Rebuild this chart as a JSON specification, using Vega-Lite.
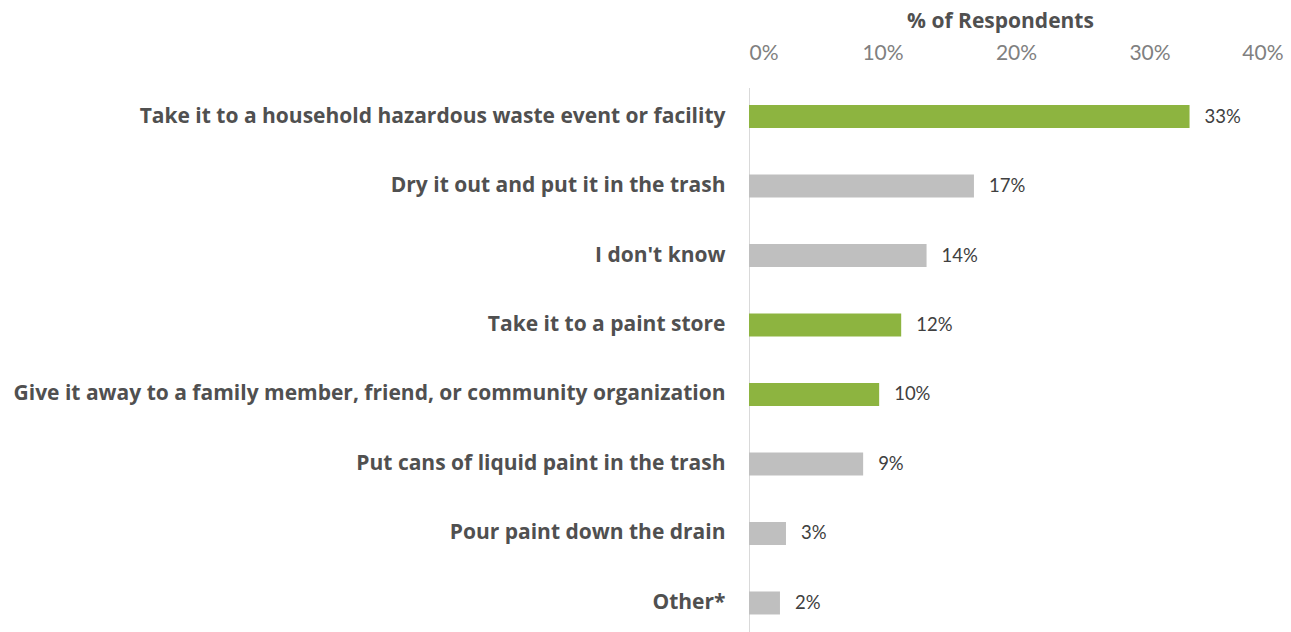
{
  "$schema": "https://vega.github.io/schema/vega-lite/v6.json",
  "width": 534,
  "height": 544.5,
  "autosize": {"type": "none"},
  "padding": {"left": 749, "top": 87.5, "right": 8, "bottom": 0},
  "background": "white",
  "data": {
    "values": [
      {"response": "Take it to a household hazardous waste event or facility", "share": 0.330, "label": "33%", "group": "green"},
      {"response": "Dry it out and put it in the trash", "share": 0.1685, "label": "17%", "group": "gray"},
      {"response": "I don't know", "share": 0.1330, "label": "14%", "group": "gray"},
      {"response": "Take it to a paint store", "share": 0.1140, "label": "12%", "group": "green"},
      {"response": "Give it away to a family member, friend, or community organization", "share": 0.0975, "label": "10%", "group": "green"},
      {"response": "Put cans of liquid paint in the trash", "share": 0.0855, "label": "9%", "group": "gray"},
      {"response": "Pour paint down the drain", "share": 0.0277, "label": "3%", "group": "gray"},
      {"response": "Other*", "share": 0.0232, "label": "2%", "group": "gray"}
    ]
  },
  "encoding": {
    "y": {
      "field": "response",
      "type": "nominal",
      "sort": null,
      "scale": {"paddingInner": 0.669, "paddingOuter": 0.252},
      "axis": {
        "title": null,
        "ticks": false,
        "domain": true,
        "domainColor": "#d9d9d9",
        "domainWidth": 1,
        "labelPadding": 24,
        "labelLimit": 900,
        "labelFont": "Open Sans",
        "labelFontWeight": "bold",
        "labelFontSize": 21,
        "labelColor": "#505050"
      }
    },
    "x": {
      "field": "share",
      "type": "quantitative",
      "scale": {"domain": [0, 0.4], "nice": false},
      "axis": {
        "orient": "top",
        "format": ".0%",
        "values": [0, 0.1, 0.2, 0.3, 0.4],
        "grid": false,
        "ticks": false,
        "domain": false,
        "labelPadding": 24,
        "labelFont": "Lato",
        "labelFontSize": 21,
        "labelColor": "#808080",
        "title": "% of Respondents",
        "titleFont": "Open Sans",
        "titleFontWeight": "bold",
        "titleFontSize": 21,
        "titleColor": "#505050",
        "titlePadding": 11,
        "titleX": 251
      }
    }
  },
  "layer": [
    {
      "mark": {"type": "bar"},
      "encoding": {
        "color": {
          "field": "group",
          "type": "nominal",
          "scale": {"domain": ["green", "gray"], "range": ["#8db440", "#bfbfbf"]},
          "legend": null
        }
      }
    },
    {
      "mark": {"type": "text", "align": "left", "baseline": "middle", "dx": 15, "font": "Lato", "fontSize": 18.5, "color": "#404040"},
      "encoding": {"text": {"field": "label"}}
    }
  ],
  "config": {"view": {"stroke": null}}
}
